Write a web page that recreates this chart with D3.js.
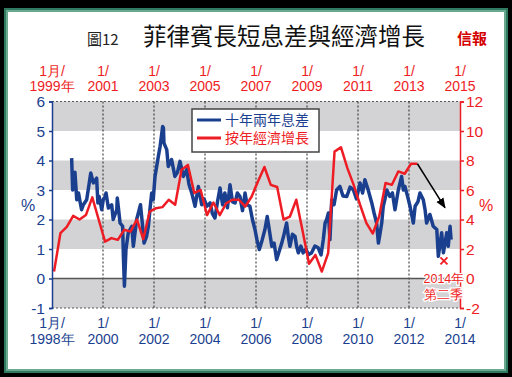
<!DOCTYPE html>
<html lang="zh-Hant">
<head>
<meta charset="utf-8">
<title>菲律賓長短息差與經濟增長</title>
<script src="https://d3js.org/d3.v7.min.js"></script>
<style>
  body { margin: 0; background: #000; }
  svg { display: block; }
  text { font-family: "Liberation Sans", Arial, sans-serif; }
  .cjk { font-family: "Noto Sans CJK TC", "Noto Sans CJK SC", sans-serif; }
  .narrow { font-family: "Liberation Sans Narrow", "Liberation Sans", sans-serif; }
</style>
</head>
<body>
<svg width="512" height="377"></svg>
<script>
// ---- data ----
// 10yr - 2yr spread, decimal year (bottom axis) and %
const spreadTime = [1998.77,1998.81,1998.90,1998.97,1999.04,1999.10,1999.16,1999.23,1999.36,1999.52,1999.62,1999.75,1999.80,1999.85,1999.95,
  2000.01,2000.08,2000.12,2000.21,2000.27,2000.34,2000.40,2000.54,2000.56,2000.67,2000.77,2000.80,2000.84,2000.90,2000.99,
  2001.06,2001.13,2001.19,2001.32,2001.47,2001.55,2001.61,2001.71,2001.78,2001.84,2001.91,2001.97,
  2002.04,2002.17,2002.24,2002.34,2002.37,2002.39,2002.50,2002.56,2002.69,2002.82,2002.92,
  2003.02,2003.15,2003.28,2003.37,2003.48,2003.61,2003.74,2003.87,2003.96,
  2004.07,2004.20,2004.29,2004.39,2004.49,2004.59,2004.69,2004.78,2004.88,2004.98,
  2005.08,2005.18,2005.27,2005.37,2005.47,2005.57,2005.65,2005.76,2005.86,2005.96,
  2006.04,2006.13,2006.24,2006.35,2006.44,2006.53,2006.62,2006.71,2006.81,2006.90,
  2007.01,2007.10,2007.20,2007.27,2007.33,2007.43,2007.53,2007.59,2007.66,2007.76,2007.85,2007.96,
  2008.05,2008.18,2008.31,2008.44,2008.55,2008.64,2008.71,2008.77,2008.84,2008.90,2008.97,
  2009.06,2009.16,2009.29,2009.41,2009.56,2009.69,2009.82,2009.94,
  2010.08,2010.18,2010.27,2010.40,2010.54,2010.63,2010.73,2010.80,2010.86,2010.93,2010.99,
  2011.06,2011.13,2011.25,2011.35,2011.45,2011.58,2011.71,2011.78,2011.84,2011.94,
  2012.04,2012.17,2012.24,2012.35,2012.43,2012.56,2012.63,2012.69,2012.82,2012.95,
  2013.09,2013.15,2013.28,2013.35,2013.48,2013.54,2013.61,2013.65];
const spreadValue = [4.08,3.0,3.6,2.67,2.9,2.6,2.33,2.5,2.67,3.58,3.24,3.4,2.56,2.78,2.33,
  2.67,2.78,2.9,2.39,2.45,2.5,2.0,2.33,2.73,1.88,1.77,0.75,-0.26,0.98,1.54,
  1.66,1.77,1.09,2.0,2.5,1.8,1.2,1.43,1.77,2.33,2.9,2.67,
  3.46,4.14,4.48,5.15,5.1,4.59,4.37,3.8,4.03,3.46,3.6,
  3.97,3.46,3.69,3.2,2.9,2.45,3.12,2.5,2.7,
  2.45,2.56,2.2,2.05,2.6,3.07,2.5,2.9,2.4,3.18,
  2.6,2.56,2.9,2.78,2.3,2.9,2.5,2.45,2.0,1.66,
  1.3,0.98,1.3,1.66,2.1,1.6,1.09,1.2,0.64,0.9,
  1.2,1.5,1.88,1.4,1.09,1.5,1.43,1.1,0.87,1.1,0.87,1.0,
  0.81,0.87,1.1,1.04,0.8,1.32,1.88,2.0,2.22,1.32,2.67,
  2.5,3.0,3.12,2.8,2.78,3.1,3.0,2.7,
  3.24,2.9,3.35,3.0,2.56,2.22,1.88,1.2,1.5,1.88,2.45,
  2.7,3.0,2.78,2.9,2.33,3.0,3.46,3.0,3.12,2.8,
  2.45,1.88,2.45,2.6,2.9,2.67,2.33,1.88,2.17,1.77,
  1.66,0.75,1.55,0.87,1.55,1.09,1.77,1.32];

// quarterly GDP growth y/y (top axis), from 1999 Q1
const gdpFirstYear = 1999;
const gdpValue = [0.47,3.07,3.5,4.25, 4.0,4.3,5.5,4.0, 2.5,2.74,2.62,3.3, 3.18,4.0,2.67,4.54,
  4.77,4.84,5.34,5.0, 7.37,7.7,5.8,6.0, 4.3,5.15,4.3,5.1, 5.34,5.34,4.88,5.56,
  6.6,7.56,6.35,6.2, 4.0,4.2,5.34,3.2, 1.0,1.6,0.47,1.72, 8.6,8.9,7.5,6.35,
  5.0,3.75,3.05,4.2, 6.47,6.35,7.26,7.1, 7.78,7.78];

const leftTicks = [-1, 0, 1, 2, 3, 4, 5, 6];
const rightTicks = [-2, 0, 2, 4, 6, 8, 10, 12];
const bottomYears = [1998, 2000, 2002, 2004, 2006, 2008, 2010, 2012, 2014];
const topYears = [1999, 2001, 2003, 2005, 2007, 2009, 2011, 2013, 2015];
const greyBands = [[5, 6], [3, 4], [1, 2], [-1, 0]];
const legendNames = ["十年兩年息差", "按年經濟增長"];
const noteLines = ["2014年", "第二季"];
const notePoint = [2014.37, 1.2];   // top-axis time, right-axis %
const arrowTo = [2014.41, 4.8];

// ---- drawing ----
const svg = d3.select("svg");
const blue = "#1b3f8f", red = "#ee1c24";

// frame
svg.append("rect").attr("width", 512).attr("height", 377).attr("fill", "#000");
svg.append("rect").attr("x", 5).attr("y", 9).attr("width", 502).attr("height", 363)
   .attr("fill", "#fff").attr("stroke", "#2f7a60").attr("stroke-width", 2);
svg.append("rect").attr("x", 7).attr("y", 11).attr("width", 498).attr("height", 359)
   .attr("fill", "none").attr("stroke", "#6aa890").attr("stroke-width", 2);

const x = d3.scaleLinear().domain([1998, 2014]).range([52, 460]);
const xTop = d3.scaleLinear().domain([1999, 2015]).range([52, 460]);
const yL = d3.scaleLinear().domain([-1, 6]).range([308, 101.5]);
const yR = d3.scaleLinear().domain([-2, 12]).range([308, 101.5]);

// grey bands
svg.append("g").selectAll("rect").data(greyBands).join("rect")
   .attr("x", x(1998)).attr("width", x(2014) - x(1998))
   .attr("y", d => yL(d[1])).attr("height", d => yL(d[0]) - yL(d[1]))
   .attr("fill", "#d3d3d5");

// dotted frame top/bottom + vertical grid
svg.append("g").selectAll("line").data([6, -1]).join("line")
   .attr("x1", x(1998)).attr("x2", x(2014)).attr("y1", d => yL(d)).attr("y2", d => yL(d))
   .attr("stroke", "#555").attr("stroke-width", 1).attr("stroke-dasharray", "2,2");
svg.append("g").selectAll("line").data(bottomYears.slice(1, -1)).join("line")
   .attr("x1", d => x(d)).attr("x2", d => x(d)).attr("y1", yL(6)).attr("y2", yL(-1))
   .attr("stroke", "#222").attr("stroke-width", 1).attr("stroke-dasharray", "2,2");

// zero line
svg.append("line").attr("x1", x(1998)).attr("x2", x(2014)).attr("y1", yL(0)).attr("y2", yL(0))
   .attr("stroke", "#555").attr("stroke-width", 1.5);

// series
const spread = spreadTime.map((t, i) => [t, spreadValue[i]]);
svg.append("path").datum(spread)
   .attr("fill", "none").attr("stroke", blue).attr("stroke-width", 3.5).attr("stroke-linejoin", "round")
   .attr("d", d3.line().x(d => x(d[0])).y(d => yL(d[1])));

const gdp = gdpValue.map((v, i) => [gdpFirstYear + i / 4 + 0.08, v]);
svg.append("path").datum(gdp)
   .attr("fill", "none").attr("stroke", red).attr("stroke-width", 2.5).attr("stroke-linejoin", "round")
   .attr("d", d3.line().x(d => xTop(d[0])).y(d => yR(d[1])));

// arrow
svg.append("defs").append("marker").attr("id", "ah")
   .attr("viewBox", "0 0 10 10").attr("refX", 9).attr("refY", 5)
   .attr("markerWidth", 7).attr("markerHeight", 7).attr("orient", "auto")
   .append("path").attr("d", "M0,1L10,5L0,9Z").attr("fill", "#000");
const last = gdp[gdp.length - 1];
svg.append("line")
   .attr("x1", xTop(last[0])).attr("y1", yR(last[1]))
   .attr("x2", xTop(arrowTo[0])).attr("y2", yR(arrowTo[1]))
   .attr("stroke", "#000").attr("stroke-width", 1.5).attr("marker-end", "url(#ah)");

// axes
const gL = svg.append("g").attr("transform", `translate(${x(1998)},0)`)
   .call(d3.axisLeft(yL).tickValues(leftTicks).tickSize(3).tickFormat(""));
gL.selectAll("path,line").attr("stroke", blue).attr("stroke-width", 1.5);
svg.append("g").selectAll("text").data(leftTicks).join("text")
   .attr("x", 45).attr("y", d => yL(d) + 5.5).attr("text-anchor", "end")
   .attr("font-size", 15.5).attr("fill", blue).text(d => d);

const gR = svg.append("g").attr("transform", `translate(${x(2014)},0)`)
   .call(d3.axisRight(yR).tickValues(rightTicks).tickSize(4).tickFormat(""));
gR.selectAll("path,line").attr("stroke", red).attr("stroke-width", 1.5);
svg.append("g").selectAll("text").data(rightTicks).join("text")
   .attr("x", 466).attr("y", d => yR(d) + 5.5).attr("text-anchor", "start")
   .attr("font-size", 15.5).attr("fill", red).text(d => d);

svg.append("text").attr("x", 28).attr("y", 211).attr("text-anchor", "middle")
   .attr("font-size", 16).attr("fill", blue).text("%");
svg.append("text").attr("x", 486).attr("y", 211).attr("text-anchor", "middle")
   .attr("font-size", 16).attr("fill", red).text("%");

// bottom / top date labels
const bt = svg.append("g").selectAll("text").data(bottomYears).join("text")
   .attr("class", "narrow").attr("text-anchor", "middle").attr("font-size", 14).attr("fill", blue);
bt.append("tspan").attr("x", d => x(d)).attr("y", 328).text((d, i) => i === 0 ? "1月/" : "1/");
bt.append("tspan").attr("x", d => x(d)).attr("y", 344).text((d, i) => i === 0 ? d + "年" : d);

const tt = svg.append("g").selectAll("text").data(topYears).join("text")
   .attr("class", "narrow").attr("text-anchor", "middle").attr("font-size", 14).attr("fill", red);
tt.append("tspan").attr("x", d => xTop(d)).attr("y", 76).text((d, i) => i === 0 ? "1月/" : "1/");
tt.append("tspan").attr("x", d => xTop(d)).attr("y", 91).text((d, i) => i === 0 ? d + "年" : d);

// legend
const lg = svg.append("g");
lg.append("rect").attr("x", 192).attr("y", 109).attr("width", 127).attr("height", 43)
  .attr("fill", "#fff").attr("stroke", "#444").attr("stroke-width", 1.5);
const items = lg.selectAll("g").data(legendNames).join("g")
  .attr("transform", (d, i) => `translate(0,${120 + i * 18})`);
items.append("line").attr("x1", 197).attr("x2", 221)
  .attr("stroke", (d, i) => i ? red : blue).attr("stroke-width", 3);
items.append("text").attr("class", "cjk").attr("x", 225).attr("y", 5)
  .attr("font-size", 14).attr("fill", (d, i) => i ? red : blue).text(d => d);

// 2014 Q2 note
const nx = xTop(notePoint[0]), ny = yR(notePoint[1]);
svg.append("path").attr("d", `M${nx - 3.5},${ny - 3.5}L${nx + 3.5},${ny + 3.5}M${nx - 3.5},${ny + 3.5}L${nx + 3.5},${ny - 3.5}`)
   .attr("stroke", red).attr("stroke-width", 1.8);
svg.append("g").selectAll("text").data(noteLines).join("text")
   .attr("class", "narrow").attr("x", nx).attr("y", (d, i) => ny + 22 + i * 16)
   .attr("text-anchor", "middle").attr("font-size", 12.5).attr("fill", red)
   .attr("stroke", "#fff").attr("stroke-width", 2.5).attr("paint-order", "stroke")
   .text(d => d);

// title
svg.append("text").attr("class", "cjk").attr("x", 87).attr("y", 45)
   .attr("font-size", 15).attr("fill", "#222").text("圖12");
svg.append("text").attr("class", "cjk").attr("x", 143).attr("y", 45)
   .attr("font-size", 23.5).attr("fill", "#111").text("菲律賓長短息差與經濟增長");
svg.append("text").attr("class", "cjk").attr("x", 457).attr("y", 44)
   .attr("font-size", 15).attr("font-weight", "bold").attr("fill", "#d40000").text("信報");
</script>
</body>
</html>
